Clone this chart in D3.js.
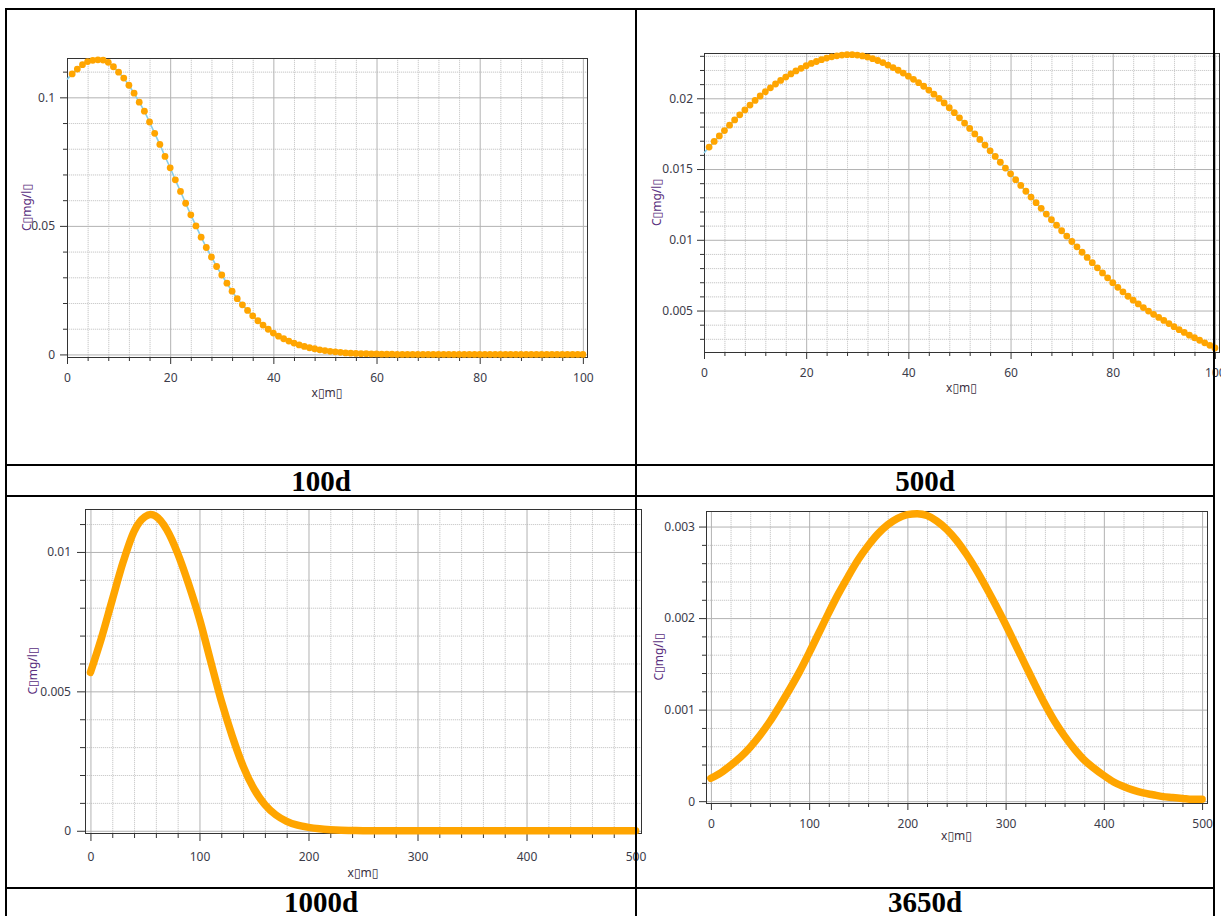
<!DOCTYPE html>
<html>
<head>
<meta charset="utf-8">
<script src="https://cdn.jsdelivr.net/npm/d3@7"></script>
<style>
  body { margin: 0; background: #fff; }
  svg { display: block; }
  .tick text { font-family: "Noto Sans", "Open Sans", "DejaVu Sans", sans-serif; font-size: 12px; fill: #3c3c4a; }
  .ticks line { stroke: #333; }
  .grid.minor line { stroke: #cdcdcd; stroke-dasharray: 1, 1; }
  .grid.minor-bg line { stroke: #f3f3f3; }
  .grid.major line { stroke: #b2b2b2; }
  .frame { fill: none; stroke: #333; }
  .axis-title { font-family: "Noto Sans", "Open Sans", "DejaVu Sans", sans-serif; font-size: 12px; }
  .y-title { fill: #5a2f7e; }
  .x-title { fill: #3a3040; }
  .panel-label { font-family: "Liberation Serif", "Times New Roman", serif; font-weight: bold; font-size: 29px; fill: #000; }
  .table-line { stroke: #000; stroke-width: 2; }
</style>
</head>
<body>
<svg id="sheet" width="1221" height="916"></svg>
<script>
"use strict";

// sample positions (m) and concentrations (mg/l)
const DIST_100D = d3.range(0, 101);
const CONC_100D = [
  0.1070, 0.1091, 0.1110, 0.1127, 0.1139, 0.1144, 0.1146, 0.1145, 0.1136, 0.1119,
  0.1098, 0.1075, 0.1047, 0.1016, 0.0981, 0.0946, 0.0904, 0.0860, 0.0817, 0.0770,
  0.0726, 0.0679, 0.0634, 0.0588, 0.0543, 0.0500, 0.0456, 0.0416, 0.0379, 0.0342,
  0.0309, 0.0277, 0.0246, 0.0217, 0.0193, 0.0171, 0.0150, 0.0131, 0.0114, 0.0098,
  0.0083, 0.0071, 0.0061, 0.0052, 0.0044, 0.0037, 0.0031, 0.0026, 0.0022, 0.0018,
  0.0015, 0.0012, 0.0010, 0.0008, 0.0006, 0.0005, 0.0004, 0.0003, 0.0003, 0.0002,
  0.0002, 0.0001, 0.0001, 0.0001, 0, 0, 0, 0, 0, 0,
  0, 0, 0, 0, 0, 0, 0, 0, 0, 0,
  0, 0, 0, 0, 0, 0, 0, 0, 0, 0,
  0, 0, 0, 0, 0, 0, 0, 0, 0, 0,
  0
];

const DIST_500D = d3.range(0, 101);
const CONC_500D = [
  0.01613, 0.01655, 0.01695, 0.01734, 0.01772, 0.01810, 0.01847, 0.01883, 0.01918, 0.01952,
  0.01985, 0.02016, 0.02046, 0.02074, 0.02101, 0.02126, 0.02150, 0.02172, 0.02193, 0.02212,
  0.02230, 0.02246, 0.02260, 0.02273, 0.02284, 0.02293, 0.02300, 0.02305, 0.02308, 0.02308,
  0.02305, 0.02299, 0.02291, 0.02280, 0.02267, 0.02252, 0.02235, 0.02217, 0.02198, 0.02178,
  0.02156, 0.02134, 0.02110, 0.02085, 0.02058, 0.02029, 0.01999, 0.01967, 0.01933, 0.01898,
  0.01862, 0.01825, 0.01787, 0.01748, 0.01709, 0.01669, 0.01629, 0.01589, 0.01548, 0.01507,
  0.01466, 0.01425, 0.01384, 0.01343, 0.01302, 0.01262, 0.01222, 0.01182, 0.01142, 0.01103,
  0.01064, 0.01026, 0.00988, 0.00950, 0.00912, 0.00875, 0.00838, 0.00802, 0.00766, 0.00731,
  0.00697, 0.00664, 0.00632, 0.00601, 0.00573, 0.00547, 0.00521, 0.00496, 0.00473, 0.00451,
  0.00430, 0.00408, 0.00386, 0.00365, 0.00345, 0.00326, 0.00308, 0.00290, 0.00272, 0.00254,
  0.00236
];

const DIST_1000D = [
  0, 10, 20, 30, 40, 50, 55, 60, 70, 80, 90, 100, 110, 120, 130, 140, 150, 160, 170, 180,
  190, 200, 210, 220, 230, 240, 250, 260, 270, 280, 290, 300, 310, 320, 330, 340, 350, 360,
  370, 380, 390, 400, 410, 420, 430, 440, 450, 460, 470, 480, 490, 500
];
const CONC_1000D = [
  0.00568, 0.00690, 0.00828, 0.00964, 0.01074, 0.01126, 0.01134, 0.01128, 0.01080, 0.00995,
  0.00885, 0.00760, 0.00612, 0.00466, 0.00340, 0.00232, 0.00150, 0.00094, 0.00057, 0.00034,
  0.00020, 0.00012, 0.00007, 0.00004, 0.00002, 0.00001, 0, 0, 0, 0,
  0, 0, 0, 0, 0, 0, 0, 0, 0, 0,
  0, 0, 0, 0, 0, 0, 0, 0, 0, 0,
  0, 0
];

const DIST_3650D = [
  0, 10, 20, 30, 40, 50, 60, 70, 80, 90, 100, 110, 120, 130, 140, 150, 160, 170, 180, 190,
  200, 210, 220, 230, 240, 250, 260, 270, 280, 290, 300, 310, 320, 330, 340, 350, 360, 370,
  380, 390, 400, 410, 420, 430, 440, 450, 460, 470, 480, 490, 500
];
const CONC_3650D = [
  0.00025, 0.00031, 0.00039, 0.00048, 0.00059, 0.00072, 0.00087, 0.00104, 0.00122, 0.00141,
  0.00162, 0.00184, 0.00206, 0.00227, 0.00246, 0.00264, 0.00279, 0.00292, 0.00302, 0.00309,
  0.00313, 0.00314, 0.00312, 0.00306, 0.00297, 0.00285, 0.00270, 0.00253, 0.00234, 0.00214,
  0.00193, 0.00171, 0.00149, 0.00127, 0.00106, 0.00087, 0.00071, 0.00057, 0.00045, 0.00036,
  0.00028, 0.00021, 0.00016, 0.00012, 0.00009, 0.00007, 0.00005, 0.00004, 0.00003, 0.00002,
  0.00002
];

const PANEL_LABELS = ["100d", "500d", "1000d", "3650d"];
const X_TITLE = "x\u25AFm\u25AF";
const Y_TITLE = "C\u25AFmg/l\u25AF";

const X_TICKS_100M = [0, 20, 40, 60, 80, 100];
const X_TICKS_500M = [0, 100, 200, 300, 400, 500];
const Y_TICKS_100D = [0, 0.05, 0.1];
const Y_TICKS_500D = [0.005, 0.01, 0.015, 0.02];
const Y_TICKS_1000D = [0, 0.005, 0.01];
const Y_TICKS_3650D = [0, 0.001, 0.002, 0.003];

// minor tick positions between the majors
function minorTicks(start, stop, step, majors) {
  const out = [];
  const n = Math.round((stop - start) / step);
  for (let i = 0; i <= n; i++) {
    const v = +(start + i * step).toFixed(6);
    if (!majors.some((m) => Math.abs(m - v) < step / 10)) out.push(v);
  }
  return out;
}

const svg = d3.select("#sheet");

const panels = [
  {
    dist: DIST_100D, conc: CONC_100D, markers: true,
    left: 67, top: 58, right: 587, bottom: 357,
    xDomain: [0, 100.8], yDomain: [-0.001, 0.1153],
    xMajor: X_TICKS_100M, xMinor: minorTicks(0, 100, 4, X_TICKS_100M),
    yMajor: Y_TICKS_100D, yMinor: minorTicks(0, 0.11, 0.01, Y_TICKS_100D),
    tick: 7, minor: 4, xPad: 9, yPad: 5, yTitleX: 27, xTitleY: 397
  },
  {
    dist: DIST_500D, conc: CONC_500D, markers: true,
    left: 704, top: 53, right: 1219, bottom: 352,
    xDomain: [0, 100.8], yDomain: [0.00207, 0.0232],
    xMajor: X_TICKS_100M, xMinor: minorTicks(0, 100, 4, X_TICKS_100M),
    yMajor: Y_TICKS_500D, yMinor: minorTicks(0.003, 0.023, 0.001, Y_TICKS_500D),
    tick: 7, minor: 4, xPad: 9, yPad: 4, yTitleX: 657, xTitleY: 392
  },
  {
    dist: DIST_1000D, conc: CONC_1000D, markers: false,
    left: 85, top: 509, right: 641, bottom: 833,
    xDomain: [-5, 505], yDomain: [-0.00008, 0.01154],
    xMajor: X_TICKS_500M, xMinor: minorTicks(0, 500, 20, X_TICKS_500M),
    yMajor: Y_TICKS_1000D, yMinor: minorTicks(0, 0.011, 0.001, Y_TICKS_1000D),
    tick: 8, minor: 5, xPad: 11, yPad: 6, yTitleX: 33, xTitleY: 877
  },
  {
    dist: DIST_3650D, conc: CONC_3650D, markers: false,
    left: 706, top: 511, right: 1207, bottom: 803,
    xDomain: [-5, 505], yDomain: [-0.00002, 0.00317],
    xMajor: X_TICKS_500M, xMinor: minorTicks(0, 500, 20, X_TICKS_500M),
    yMajor: Y_TICKS_3650D, yMinor: minorTicks(0, 0.003, 0.0002, Y_TICKS_3650D),
    tick: 7, minor: 4, xPad: 9, yPad: 4, yTitleX: 659, xTitleY: 840
  }
];

panels.forEach((p) => drawPanel(p));
drawTable();

function drawPanel(p) {
  const w = p.right - p.left;
  const h = p.bottom - p.top;
  const x = d3.scaleLinear().domain(p.xDomain).range([p.left, p.right]);
  const y = d3.scaleLinear().domain(p.yDomain).range([p.bottom, p.top]);
  const g = svg.append("g");

  const clean = (s) => s.select(".domain").remove();

  // grid: faint solid + dotted minor lines, then solid majors
  ["minor-bg", "minor"].forEach((cls) => {
    g.append("g").attr("class", "grid " + cls)
      .attr("transform", `translate(0,${p.bottom})`)
      .call(d3.axisBottom(x).tickValues(p.xMinor).tickSize(-h).tickFormat(""))
      .call(clean);
    g.append("g").attr("class", "grid " + cls)
      .attr("transform", `translate(${p.left},0)`)
      .call(d3.axisLeft(y).tickValues(p.yMinor).tickSize(-w).tickFormat(""))
      .call(clean);
  });
  g.append("g").attr("class", "grid major")
    .attr("transform", `translate(0,${p.bottom})`)
    .call(d3.axisBottom(x).tickValues(p.xMajor).tickSize(-h).tickFormat(""))
    .call(clean);
  g.append("g").attr("class", "grid major")
    .attr("transform", `translate(${p.left},0)`)
    .call(d3.axisLeft(y).tickValues(p.yMajor).tickSize(-w).tickFormat(""))
    .call(clean);

  // tick marks and labels outside the frame
  g.append("g").attr("class", "ticks")
    .attr("transform", `translate(0,${p.bottom})`)
    .call(d3.axisBottom(x).tickValues(p.xMinor).tickSize(p.minor).tickFormat(""))
    .call(clean);
  g.append("g").attr("class", "ticks")
    .attr("transform", `translate(0,${p.bottom})`)
    .call(d3.axisBottom(x).tickValues(p.xMajor).tickSize(p.tick).tickPadding(p.xPad)
      .tickFormat(d3.format("~g")))
    .call(clean);
  g.append("g").attr("class", "ticks")
    .attr("transform", `translate(${p.left},0)`)
    .call(d3.axisLeft(y).tickValues(p.yMinor).tickSize(p.minor).tickFormat(""))
    .call(clean);
  g.append("g").attr("class", "ticks")
    .attr("transform", `translate(${p.left},0)`)
    .call(d3.axisLeft(y).tickValues(p.yMajor).tickSize(p.tick).tickPadding(p.yPad)
      .tickFormat(d3.format("~g")))
    .call(clean);

  g.append("rect").attr("class", "frame")
    .attr("x", p.left + 0.5).attr("y", p.top + 0.5)
    .attr("width", w).attr("height", h);

  const pts = p.dist.map((d, i) => ({ x: d, c: p.conc[i] }));

  if (p.markers) {
    const line = d3.line().x((d) => x(d.x)).y((d) => y(d.c));
    g.append("path").datum(pts)
      .attr("d", line)
      .attr("fill", "none")
      .attr("stroke", "#87ceeb")
      .attr("stroke-width", 1.6);
    g.append("g").selectAll("circle")
      .data(pts.filter((d) => d.x > 0))
      .join("circle")
      .attr("cx", (d) => x(d.x))
      .attr("cy", (d) => y(d.c))
      .attr("r", 3.4)
      .attr("fill", "#ffa500");
  } else {
    const line = d3.line().curve(d3.curveMonotoneX).x((d) => x(d.x)).y((d) => y(d.c));
    g.append("path").datum(pts)
      .attr("d", line)
      .attr("fill", "none")
      .attr("stroke", "#ffa500")
      .attr("stroke-width", 7.5)
      .attr("stroke-linecap", "round")
      .attr("stroke-linejoin", "round");
  }

  g.append("text").attr("class", "axis-title y-title")
    .attr("transform", `translate(${p.yTitleX},${(p.top + p.bottom) / 2}) rotate(-90)`)
    .attr("text-anchor", "middle")
    .attr("dy", "0.35em")
    .text(Y_TITLE);

  g.append("text").attr("class", "axis-title x-title")
    .attr("x", (p.left + p.right) / 2)
    .attr("y", p.xTitleY)
    .attr("text-anchor", "middle")
    .text(X_TITLE);
}

function drawTable() {
  const t = svg.append("g");
  const hLines = [9, 465, 496, 888];
  const vLines = [6, 636, 1214];

  t.selectAll(".h").data(hLines).join("line")
    .attr("class", "table-line h")
    .attr("x1", 5).attr("x2", 1215)
    .attr("y1", (d) => d).attr("y2", (d) => d);
  t.selectAll(".v").data(vLines).join("line")
    .attr("class", "table-line v")
    .attr("x1", (d) => d).attr("x2", (d) => d)
    .attr("y1", 8).attr("y2", 916);

  const cx = [321, 925];
  const base = [491, 912];
  t.selectAll("text").data(PANEL_LABELS).join("text")
    .attr("class", "panel-label")
    .attr("text-anchor", "middle")
    .attr("x", (d, i) => cx[i % 2])
    .attr("y", (d, i) => base[Math.floor(i / 2)])
    .text((d) => d);
}
</script>
</body>
</html>
